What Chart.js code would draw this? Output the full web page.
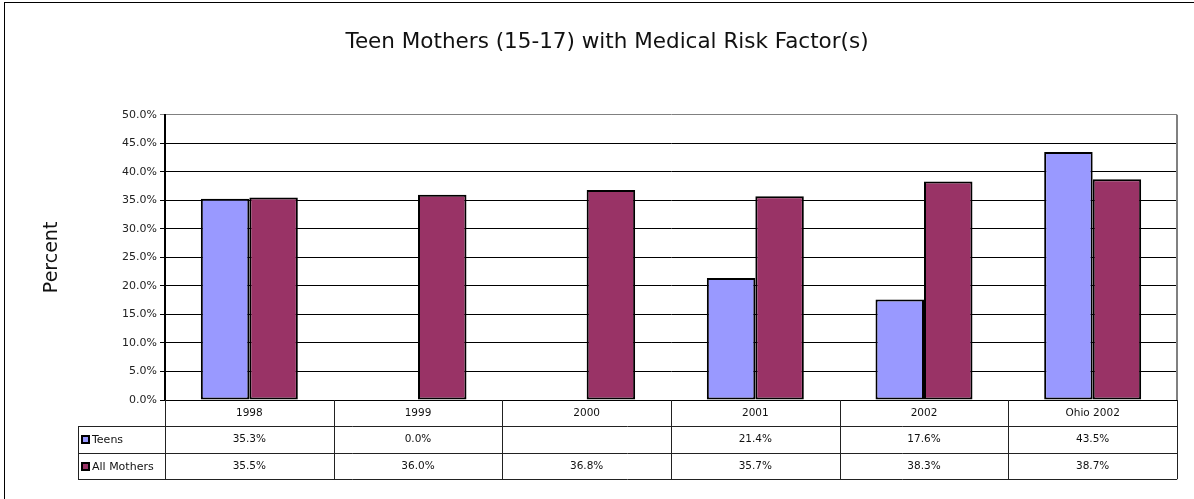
<!DOCTYPE html>
<html>
<head>
<meta charset="utf-8">
<script src="https://cdn.jsdelivr.net/npm/chart.js@4"></script>
<style>
html,body{margin:0;padding:0;background:#fff;}
canvas{display:block;}
</style>
</head>
<body>
<canvas id="c" width="1194" height="499"></canvas>
<script>
const categories = ['1998', '1999', '2000', '2001', '2002', 'Ohio 2002'];
const teens = [35.3, 0.0, null, 21.4, 17.6, 43.5];
const allMothers = [35.5, 36.0, 36.8, 35.7, 38.3, 38.7];
const seriesNames = ['Teens', 'All Mothers'];
const seriesColors = ['#9999FF', '#993366'];
const yMin = 0, yMax = 50, yStep = 5;
const chartTitle = 'Teen Mothers (15-17) with Medical Risk Factor(s)';
const yTitle = 'Percent';

const FONT = '"DejaVu Sans", Verdana, sans-serif';
const fmt = v => (v === null || v === undefined) ? '' : v.toFixed(1) + '%';

const framePlugin = {
  id: 'frame',
  beforeDraw(chart) {
    const ctx = chart.ctx;
    ctx.save();
    ctx.strokeStyle = '#000';
    ctx.lineWidth = 1;
    ctx.strokeRect(4.5, 2.5, 1300, 600);
    ctx.restore();
  }
};

const tablePlugin = {
  id: 'dataTable',
  afterDraw(chart) {
    const ctx = chart.ctx;
    const x = chart.scales.x;
    const area = chart.chartArea;
    const n = categories.length;
    const step = (x.right - x.left) / n;
    const rowH = 26.4;
    const top = area.bottom;
    const legendLeft = 78;
    const rows = [teens, allMothers];
    ctx.save();
    ctx.strokeStyle = '#808080';
    ctx.lineWidth = 2;
    ctx.beginPath();
    ctx.moveTo(area.right, area.top);
    ctx.lineTo(area.right, area.bottom);
    ctx.stroke();

    ctx.strokeStyle = '#222';
    ctx.lineWidth = 1;
    const bottom = top + rowH * 3;
    for (let i = 0; i <= n; i++) {
      const px = Math.round(x.left + i * step) + 0.5;
      ctx.beginPath();
      ctx.moveTo(px, top);
      ctx.lineTo(px, bottom);
      ctx.stroke();
    }
    ctx.beginPath();
    ctx.moveTo(legendLeft + 0.5, top + rowH);
    ctx.lineTo(legendLeft + 0.5, bottom);
    ctx.stroke();
    for (let r = 1; r <= 3; r++) {
      const py = Math.round(top + r * rowH) + 0.5;
      ctx.beginPath();
      ctx.moveTo(legendLeft, py);
      ctx.lineTo(x.right, py);
      ctx.stroke();
    }
    ctx.fillStyle = '#111';
    ctx.font = '10.5px ' + FONT;
    ctx.textAlign = 'center';
    ctx.textBaseline = 'middle';
    for (let i = 0; i < n; i++) {
      const cx = x.getPixelForValue(i);
      ctx.fillText(categories[i], cx, top + rowH * 0.5);
      for (let r = 0; r < rows.length; r++) {
        ctx.fillText(fmt(rows[r][i]), cx, top + rowH * (r + 1.5));
      }
    }
    ctx.textAlign = 'left';
    ctx.font = '11px ' + FONT;
    for (let r = 0; r < rows.length; r++) {
      const cy = top + rowH * (r + 1.5);
      ctx.fillStyle = '#000';
      ctx.fillRect(legendLeft + 3, Math.round(cy - 4.5), 9, 9);
      ctx.fillStyle = seriesColors[r];
      ctx.fillRect(legendLeft + 5, Math.round(cy - 2.5), 5, 5);
      ctx.fillStyle = '#111';
      ctx.fillText(seriesNames[r], legendLeft + 14, cy + 1);
    }
    ctx.restore();
  }
};

new Chart(document.getElementById('c'), {
  type: 'bar',
  data: {
    labels: categories,
    datasets: [
      { label: seriesNames[0], data: teens, backgroundColor: seriesColors[0], borderColor: '#000', borderWidth: 2, borderSkipped: false },
      { label: seriesNames[1], data: allMothers, backgroundColor: seriesColors[1], borderColor: '#000', borderWidth: 2, borderSkipped: false }
    ]
  },
  options: {
    responsive: false,
    animation: false,
    devicePixelRatio: 1,
    layout: { padding: { left: 37, right: 17, top: 0, bottom: 99 } },
    datasets: { bar: { barPercentage: 1.0, categoryPercentage: 0.575 } },
    plugins: {
      legend: { display: false },
      tooltip: { enabled: false },
      title: {
        display: true,
        text: chartTitle,
        color: '#111',
        font: { family: FONT, size: 21.5, weight: 'normal' },
        padding: { top: 30, bottom: 59 }
      }
    },
    scales: {
      x: { display: false },
      y: {
        min: yMin, max: yMax,
        afterFit(scale) { scale.width = 128; },
        ticks: {
          stepSize: yStep,
          color: '#222',
          padding: 3,
          font: { family: FONT, size: 11 },
          callback: v => v.toFixed(1) + '%'
        },
        grid: {
          color: c => (c.tick && c.tick.value === yMax) ? '#808080' : '#000',
          lineWidth: 1,
          tickLength: 5
        },
        border: { color: '#000', width: 2 },
        title: {
          display: true,
          text: yTitle,
          color: '#111',
          font: { family: FONT, size: 19, weight: 'normal' },
          padding: { top: 4, bottom: 4 }
        }
      }
    }
  },
  plugins: [framePlugin, tablePlugin]
});
</script>
</body>
</html>
